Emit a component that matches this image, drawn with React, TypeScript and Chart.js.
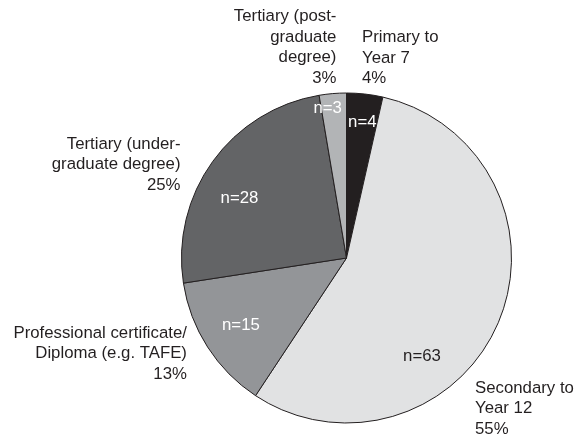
import React, { useEffect, useRef } from 'react';
import { Chart, registerables } from 'chart.js';

Chart.register(...registerables);

// ---- data ----
const categoryLines: string[][] = [
  ['Primary to', 'Year 7'],
  ['Secondary to', 'Year 12'],
  ['Professional certificate/', 'Diploma (e.g. TAFE)'],
  ['Tertiary (under-', 'graduate degree)'],
  ['Tertiary (post-', 'graduate', 'degree)'],
];
const counts = [4, 63, 15, 28, 3];
const percentLabels = ['4%', '55%', '13%', '25%', '3%'];
const countLabels = ['n=4', 'n=63', 'n=15', 'n=28', 'n=3'];

// ---- styles ----
const sliceColors = ['#231f20', '#e1e2e3', '#939598', '#636466', '#b2b4b6'];
const countTextColors = ['#ffffff', '#231f20', '#ffffff', '#ffffff', '#ffffff'];
// inner label placement: fraction along slice angle, fraction of radius
const innerAngleFrac = [0.52, 0.646, 0.505, 0.427, 0.25];
const innerRadiusFrac = [0.83, 0.75, 0.758, 0.744, 0.915];
// outer label anchors in units of radius relative to centre
const outerDx = [0.094, 0.779, -0.967, -1.006, -0.061];
const outerDy = [-1.336, 0.788, 0.455, -0.691, -1.464];
const outerAlign: CanvasTextAlign[] = ['left', 'left', 'right', 'right', 'right'];
const FONT = '16.8px "Liberation Sans", Arial, sans-serif';
const LINE_H = 20.5;

const labelPlugin = {
  id: 'pieLabels',
  afterDatasetsDraw(chart: any) {
    const ctx: CanvasRenderingContext2D = chart.ctx;
    const meta = chart.getDatasetMeta(0);
    ctx.save();
    ctx.font = FONT;
    ctx.textBaseline = 'middle';
    meta.data.forEach((arc: any, i: number) => {
      const { x, y, startAngle, endAngle, outerRadius } = arc.getProps(
        ['x', 'y', 'startAngle', 'endAngle', 'outerRadius'],
        true
      );
      const a = startAngle + innerAngleFrac[i] * (endAngle - startAngle);
      const r = innerRadiusFrac[i] * outerRadius;
      ctx.fillStyle = countTextColors[i];
      ctx.textAlign = 'center';
      ctx.fillText(countLabels[i], x + Math.cos(a) * r, y + Math.sin(a) * r);

      const lines = [...categoryLines[i], percentLabels[i]];
      const ax = x + outerDx[i] * outerRadius;
      const ay = y + outerDy[i] * outerRadius;
      ctx.fillStyle = '#231f20';
      ctx.textAlign = outerAlign[i];
      lines.forEach((ln, k) => ctx.fillText(ln, ax, ay + k * LINE_H));
    });
    ctx.restore();
  },
};

export default function App() {
  const ref = useRef<HTMLCanvasElement | null>(null);
  useEffect(() => {
    if (!ref.current) return;
    const chart = new Chart(ref.current, {
      type: 'pie',
      data: {
        labels: categoryLines.map((l) => l.join(' ')),
        datasets: [
          {
            data: counts,
            backgroundColor: sliceColors,
            borderColor: '#231f20',
            borderWidth: 1,
          },
        ],
      },
      options: {
        responsive: false,
        animation: false,
        radius: 165,
        layout: { padding: { left: 150, right: 31, top: 92, bottom: 10 } },
        plugins: {
          legend: { display: false },
          tooltip: { enabled: false },
        },
      } as any,
      plugins: [labelPlugin],
    });
    return () => chart.destroy();
  }, []);
  return (
    <div style={{ position: 'absolute', left: 0, top: 0, width: 574, height: 434, background: '#fff' }}>
      <canvas ref={ref} width={574} height={434} />
    </div>
  );
}
